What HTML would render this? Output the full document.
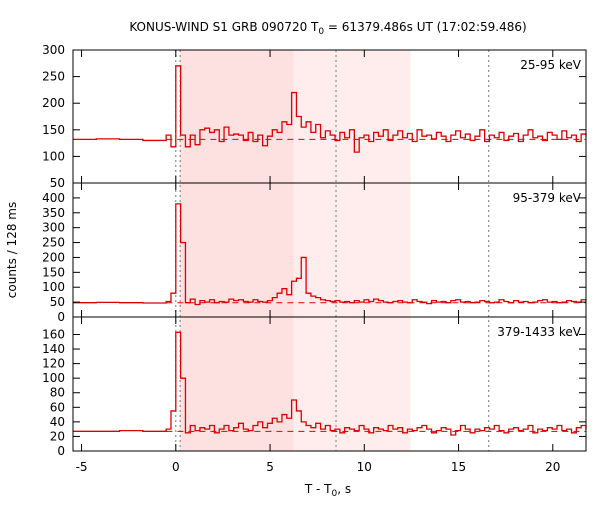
<!DOCTYPE html>
<html><head><meta charset="utf-8"><style>
body{margin:0;background:#fff;}
svg{font-family:"DejaVu Sans","Liberation Sans",sans-serif;font-size:12px;}
</style></head><body>
<svg id="c" width="600" height="500" xmlns="http://www.w3.org/2000/svg">
<text x="328" y="31" text-anchor="middle">KONUS-WIND S1 GRB 090720 T<tspan font-size="9" dy="3">0</tspan><tspan dy="-3"> = 61379.486s UT (17:02:59.486)</tspan></text>
<text transform="translate(16,250) rotate(-90)" text-anchor="middle">counts / 128 ms</text>
<text x="328" y="493" text-anchor="middle">T - T<tspan font-size="9" dy="3">0</tspan><tspan dy="-3">, s</tspan></text>
</svg>
<script>
const xTicks=[-5,0,5,10,15,20];
const shadeDark=[0.23,6.26];
const shadeLight=[6.26,12.45];
const markers=[0,0.23,8.5,16.6];
const binStart=-0.512, binWidth=0.256;
const bandLabels=["25-95 keV","95-379 keV","379-1433 keV"];
const yMax=[300,450,184];
const yMin=[50,0,0];
const yTicks0=[50,100,150,200,250,300];
const yTicks1=[0,50,100,150,200,250,300,350,400];
const yTicks2=[0,20,40,60,80,100,120,140,160];
const bg=[132,48,27];
const pre0=[132,133,132,130];
const pre1=[48,49,48,47];
const pre2=[27,27,28,27];
const band0=[140,118,270,140,118,140,122,150,153,145,150,128,155,140,142,140,130,145,128,140,120,138,150,145,165,160,220,175,155,165,145,160,135,148,140,130,145,135,150,108,135,140,128,145,138,150,130,140,148,135,143,128,150,138,140,133,145,138,128,140,148,135,142,130,138,150,128,140,135,145,130,138,143,128,140,150,135,138,130,145,140,132,148,135,140,128,142,138];
const band1=[52,80,380,250,48,60,42,55,50,58,48,52,50,60,55,58,52,50,58,52,50,55,65,80,95,75,120,130,200,80,70,65,58,55,52,55,50,52,48,55,50,58,52,60,55,50,48,52,55,50,48,58,52,50,45,55,50,52,48,55,58,50,52,48,50,55,52,48,50,58,52,48,55,50,52,48,50,55,58,50,52,48,50,55,52,50,58,55];
const band2=[30,55,163,100,25,35,28,32,30,35,25,30,35,28,32,38,30,28,35,40,32,38,45,40,50,45,70,55,40,35,32,38,30,35,28,30,25,32,30,28,35,30,25,32,30,28,35,30,32,25,30,28,32,35,30,25,28,32,30,22,28,35,30,25,30,28,32,30,35,28,25,30,32,28,30,35,25,30,28,32,30,35,28,30,25,32,35,30];
const bands=[band0,band1,band2];
const pres=[pre0,pre1,pre2];
const yTicks=[yTicks0,yTicks1,yTicks2];

const NS="http://www.w3.org/2000/svg";
const svg=document.getElementById('c');
const L=73,R=586,tops=[50,183,317],bots=[183,317,451];
const tMin=(L-175.8)/18.85, tMax=(R-175.8)/18.85;
function X(t){return 175.8+t*18.85;}
function mk(tag,a,parent){const e=document.createElementNS(NS,tag);for(const k in a)e.setAttribute(k,a[k]);(parent||svg).appendChild(e);return e;}

let r=mk('rect',{x:X(shadeDark[0]),y:50,width:X(shadeDark[1])-X(shadeDark[0]),height:401,fill:'#fde0e0'});


r=mk('rect',{x:X(shadeLight[0]),y:50,width:X(shadeLight[1])-X(shadeLight[0]),height:401,fill:'#ffeded'});


markers.forEach(m=>{const l=mk('line',{x1:X(m),x2:X(m),y1:50,y2:451,stroke:'#777','stroke-dasharray':'2,3'});

});

for(let p=0;p<3;p++){
  const top=tops[p],bot=bots[p];
  const Y=v=>bot-(v-yMin[p])/(yMax[p]-yMin[p])*(bot-top);
  const g=mk('g',{});
  
  
  const bl=mk('line',{x1:X(-0.5),x2:R,y1:Y(bg[p]),y2:Y(bg[p]),stroke:'#d00','stroke-dasharray':'6,5','stroke-width':1},g);
  
  
  let d='';
  const pre=pres[p];const pw=(binStart-tMin)/pre.length;
  pre.forEach((v,i)=>{const t0=tMin+i*pw,t1=t0+pw;d+=(i?'L':'M')+X(t0)+','+Y(v)+'L'+X(t1)+','+Y(v);});
  bands[p].forEach((v,i)=>{let t0=binStart+i*binWidth,t1=Math.min(t0+binWidth,tMax);if(t0>=tMax)return;d+='L'+X(t0)+','+Y(v)+'L'+X(t1)+','+Y(v);});
  const h=mk('path',{d:d,fill:'none',stroke:'#d00','stroke-width':1.3},g);
  
  
  const f=mk('rect',{x:L,y:top,width:R-L,height:bot-top,fill:'none',stroke:'#000','stroke-width':1},g);
  
  
  yTicks[p].forEach(v=>{const y=Y(v);
    mk('line',{x1:L,x2:L+7,y1:y,y2:y,stroke:'#000'},g);
    mk('line',{x1:R,x2:R-7,y1:y,y2:y,stroke:'#000'},g);
    const t=mk('text',{x:L-8,y:y+4,'text-anchor':'end'},g);t.textContent=v;
    
    });
  xTicks.forEach(v=>{mk('line',{x1:X(v),x2:X(v),y1:bot,y2:bot-7,stroke:'#000'},g);mk('line',{x1:X(v),x2:X(v),y1:top,y2:top+7,stroke:'#000'},g);});
  const lb=mk('text',{x:R-5,y:top+19,'text-anchor':'end'},g);lb.textContent=bandLabels[p];
  
  
}
xTicks.forEach(v=>{const t=mk('text',{x:X(v),y:471,'text-anchor':'middle'});t.textContent=v;

});
</script>
</body></html>
